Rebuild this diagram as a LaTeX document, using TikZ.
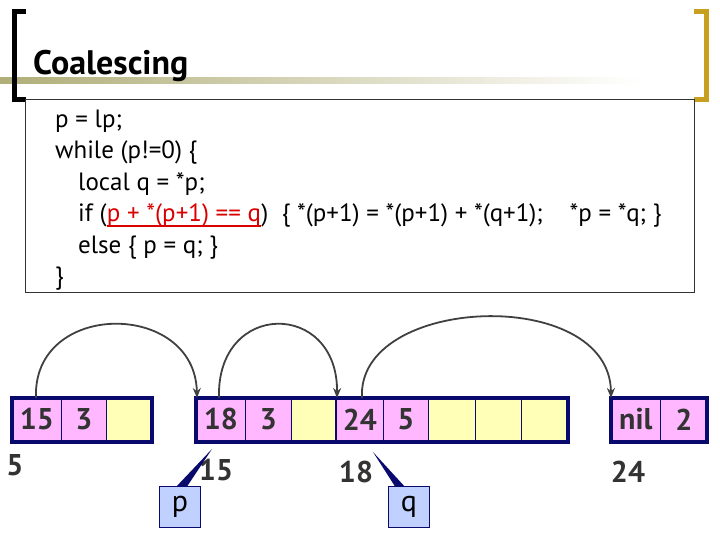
\documentclass[tikz,border=0pt]{standalone}
\usepackage{fontspec}
\setmainfont{PT Sans}
\usetikzlibrary{arrows.meta}
\definecolor{pinkc}{HTML}{FFB8FF}
\definecolor{yelc}{HTML}{FFFFB8}
\definecolor{navy}{HTML}{0A0A6E}
\definecolor{gold}{HTML}{C8A020}
\definecolor{olive}{HTML}{B0AE78}
\definecolor{ptrc}{HTML}{C0D0FF}
\begin{document}
\begin{tikzpicture}[x=1pt,y=-1pt,
  code/.style={anchor=base west,inner sep=0pt,font=\fontsize{25}{27}\selectfont},
  cell/.style={draw=navy,line width=0.6pt,minimum height=42pt,inner sep=0pt,anchor=north west,font=\fontsize{30}{32}\selectfont\bfseries,text=black!80},
  pk/.style={cell,fill=pinkc},
  yk/.style={cell,fill=yelc},
  blk/.style={draw=navy,line width=3.5pt},
  lab/.style={font=\fontsize{30}{32}\selectfont\bfseries,text=black!80,inner sep=0pt},
  ptr/.style={draw=navy,fill=ptrc,line width=0.8pt,minimum width=41pt,minimum height=41pt,inner sep=0pt,font=\fontsize{30}{32}\selectfont},
  arc/.style={draw=black!75,line width=1.8pt,-{Stealth[length=10pt,width=8pt]}}]
\useasboundingbox (0,0) rectangle (720,540);
% header
\shade[left color=olive,right color=white] (0,78) rectangle (640,84);
\draw[line width=5pt] (26,12) -- (14,12) -- (14,100) -- (26,100);
\draw[gold,line width=5pt] (694,12) -- (706,12) -- (706,100) -- (694,100);
\node[anchor=base west,inner sep=0pt,font=\fontsize{34}{36}\selectfont\bfseries] (title) at (33,75) {Coalescing};
% code
\draw[black!80,line width=0.8pt] (25,99) rectangle (694,292);
\node[code] (c1) at (55,128) {p = lp;};
\node[code] (c2) at (55,159) {while (p!=0) \{};
\node[code] (c3) at (78,191) {local q = *p;};
\node[code] (c4a) at (78,222) {if (};
\node[code,text=red!85!black,anchor=base west] (c4b) at (c4a.base east) {p + *(p+1) == q};
\node[code,anchor=base west] (c4c) at (c4b.base east) {)\ \ \{ *(p+1) = *(p+1) + *(q+1);\ \ \ \ *p = *q; \}};
\draw[red!85!black,line width=1.5pt] ([yshift=-4pt]c4b.base west) -- ([yshift=-4pt]c4b.base east);
\node[code] (c5) at (78,253) {else \{ p = q; \}};
\node[code] (c6) at (55,284) {\}};
% blocks
\node[pk,minimum width=49pt] (a1) at (12,398) {15};
\node[pk,minimum width=45pt] (a2) at (61,398) {3};
\node[yk,minimum width=44pt] (a3) at (106,398) {};
\draw[blk] (12,398) rectangle (152,442);
\node[pk,minimum width=49pt] (b1) at (196,398) {18};
\node[pk,minimum width=46pt] (b2) at (245,398) {3};
\node[yk,minimum width=45pt] (b3) at (291,398) {};
\node[pk,minimum width=47pt] (b4) at (336,398) {24};
\node[pk,minimum width=45pt] (b5) at (383,398) {5};
\node[yk,minimum width=47pt] (b6) at (428,398) {};
\node[yk,minimum width=46pt] (b7) at (475,398) {};
\node[yk,minimum width=46pt] (b8) at (521,398) {};
\draw[blk] (196,398) rectangle (568,442);
\draw[navy,line width=2.5pt] (336,398) -- (336,442);
\node[pk,minimum width=49pt] (d1) at (611,398) {nil};
\node[pk,minimum width=47pt] (d2) at (660,398) {2};
\draw[blk] (611,398) rectangle (707,442);
% address labels
\node[lab] (l5) at (15,465) {5};
\node[lab] (l15) at (216,470) {15};
\node[lab] (l18) at (356,472) {18};
\node[lab] (l24) at (628,472) {24};
% pointers
\coordinate (pt) at (212,449);
\coordinate (qt) at (373,452);
\fill[navy] (pt) -- (175,488) -- (186,488) -- cycle;
\fill[navy] (qt) -- (396,488) -- (406,488) -- cycle;
\node[ptr] (p) at (180,507) {p};
\node[ptr] (q) at (409,507) {q};
% arcs
\coordinate (s1) at (36,398); \coordinate (e1) at (197,398);
\coordinate (s2) at (219,398); \coordinate (e2) at (337,398);
\coordinate (s3) at (362,398); \coordinate (e3) at (611,398);
\draw[arc] (s1) .. controls (32,300) and (195,300) .. (e1);
\draw[arc] (s2) .. controls (216,300) and (338,300) .. (e2);
\draw[arc] (s3) .. controls (356,295) and (610,285) .. (e3);
\end{tikzpicture}
\end{document}
